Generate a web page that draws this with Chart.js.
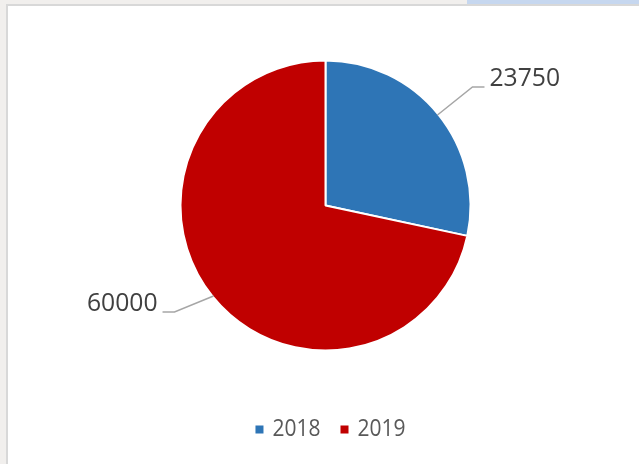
<!DOCTYPE html>
<html>
<head>
<meta charset="utf-8">
<script src="https://cdn.jsdelivr.net/npm/chart.js@4"></script>
<style>
    body { margin: 0; background: #f1efed; width: 639px; height: 464px; overflow: hidden; position: relative; }
    #tabbar { position: absolute; left: 467px; top: 0; width: 172px; height: 4px; background: #c6d7ef; }
    #panel { position: absolute; left: 6px; top: 4px; right: 0; bottom: 0; background: #fff; border-left: 2px solid #d8d8d8; border-top: 2px solid #d8d8d8; }
    #chart { position: absolute; left: 0; top: 0; }
</style>
</head>
<body>
<div id="tabbar"></div>
<div id="panel"></div>
<canvas id="chart" width="639" height="464"></canvas>
<script>
const years = ['2018', '2019'];
const amounts = [23750, 60000];
const sliceColors = ['#2e75b6', '#c00000'];

// elbow of each leader line, relative to the slice edge point
const leaderElbows = [[35, -28], [-39, 16]];

function drawText(ctx, text, x, y, size, squeeze, color, align) {
    ctx.save();
    ctx.font = size + 'px "Open Sans"';
    ctx.fillStyle = color;
    ctx.textBaseline = 'middle';
    ctx.textAlign = align;
    ctx.translate(x, y);
    ctx.scale(squeeze, 1);
    ctx.fillText(text, 0, 0);
    ctx.restore();
}

const calloutPlugin = {
    id: 'callouts',
    afterDatasetsDraw(chart) {
        const ctx = chart.ctx;
        const arcs = chart.getDatasetMeta(0).data;
        arcs.forEach((arc, i) => {
            const mid = (arc.startAngle + arc.endAngle) / 2;
            const ex = arc.x + Math.cos(mid) * (arc.outerRadius - 1);
            const ey = arc.y + Math.sin(mid) * (arc.outerRadius - 1);
            const bx = ex + leaderElbows[i][0];
            const by = ey + leaderElbows[i][1];
            const dir = Math.cos(mid) >= 0 ? 1 : -1;
            const tx = bx + dir * 12;

            ctx.save();
            ctx.strokeStyle = '#a6a6a6';
            ctx.lineWidth = 1.5;
            ctx.beginPath();
            ctx.moveTo(ex, ey);
            ctx.lineTo(bx, by);
            ctx.lineTo(tx, by);
            ctx.stroke();
            ctx.restore();

            drawText(ctx, String(chart.data.datasets[0].data[i]), tx + dir * 5, by - 8,
                26, 0.95, '#404040', dir > 0 ? 'left' : 'right');
        });
    }
};

const legendPlugin = {
    id: 'bottomLegend',
    afterDraw(chart) {
        const ctx = chart.ctx;
        const size = 24, squeeze = 0.875, box = 8, gap = 9, spacing = 20;
        ctx.save();
        ctx.font = size + 'px "Open Sans"';
        const widths = chart.data.labels.map(l => ctx.measureText(l).width * squeeze);
        ctx.restore();
        const total = widths.reduce((a, w) => a + box + gap + w, 0) + spacing * (widths.length - 1);
        let x = 330.5 - total / 2;
        const y = 429;
        chart.data.labels.forEach((label, i) => {
            ctx.fillStyle = chart.data.datasets[0].backgroundColor[i];
            ctx.fillRect(x, y - box / 2 + 0.5, box, box);
            x += box + gap;
            drawText(ctx, label, x, y, size, squeeze, '#595959', 'left');
            x += widths[i] + spacing;
        });
    }
};

new Chart(document.getElementById('chart'), {
    type: 'pie',
    data: {
        labels: years,
        datasets: [{
            data: amounts,
            backgroundColor: sliceColors,
            borderColor: '#ffffff',
            borderWidth: 2
        }]
    },
    options: {
        responsive: false,
        animation: false,
        devicePixelRatio: 1,
        layout: {
            padding: { left: 179.5, right: 167.5, top: 59, bottom: 112 }
        },
        plugins: {
            legend: { display: false },
            tooltip: { enabled: false }
        }
    },
    plugins: [calloutPlugin, legendPlugin]
});
</script>
</body>
</html>
